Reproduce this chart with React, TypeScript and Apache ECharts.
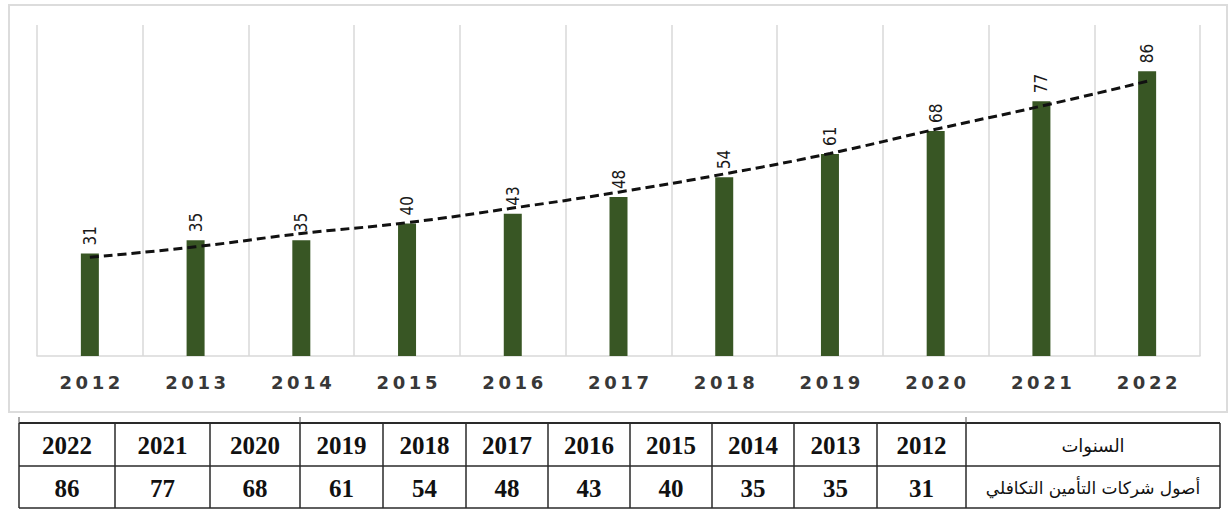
import React, { useEffect, useRef } from "react";
import * as echarts from "echarts";

const years = ["2012", "2013", "2014", "2015", "2016", "2017", "2018", "2019", "2020", "2021", "2022"];
const assets = [31, 35, 35, 40, 43, 48, 54, 61, 68, 77, 86];
const trend = [29.8, 33, 37, 40.3, 44.7, 49.5, 55, 61.2, 68.5, 75.5, 83];
const rowHeaders = ["السنوات", "أصول شركات التأمين التكافلي"];

const colEdges = [19, 115, 210, 300, 383, 466, 548, 630, 712, 794, 877, 966, 1220];
const rowEdges = [423, 466, 508];

export default function App() {
  const ref = useRef<HTMLDivElement>(null);
  useEffect(() => {
    if (!ref.current) return;
    const chart = echarts.init(ref.current, null, { renderer: "svg" });
    const graphic: any[] = [];
    graphic.push({
      type: "rect",
      shape: { x: 9, y: 5, width: 1218, height: 407 },
      style: { fill: "none", stroke: "#dcdcdc", lineWidth: 2 },
      silent: true,
    });
    const tableTop = rowEdges[0];
    const tableBottom = rowEdges[rowEdges.length - 1];
    rowEdges.forEach((y, i) => {
      graphic.push({
        type: "line",
        shape: { x1: colEdges[0], y1: y, x2: colEdges[colEdges.length - 1], y2: y },
        style: { stroke: "#2a2a2a", lineWidth: i === 0 ? 2 : 1.5 },
      });
    });
    colEdges.forEach((x) => {
      graphic.push({
        type: "line",
        shape: { x1: x, y1: tableTop, x2: x, y2: tableBottom },
        style: { stroke: "#2a2a2a", lineWidth: 1.5 },
      });
    });
    [0, 3, 11].forEach((i) => {
      graphic.push({
        type: "line",
        shape: { x1: colEdges[i], y1: tableTop - 6, x2: colEdges[i], y2: tableTop },
        style: { stroke: "#555", lineWidth: 1 },
      });
    });
    const revYears = [...years].reverse();
    const revVals = [...assets].reverse();
    revYears.forEach((yr, i) => {
      const cx = (colEdges[i] + colEdges[i + 1]) / 2;
      graphic.push({
        type: "text",
        x: cx,
        y: (rowEdges[0] + rowEdges[1]) / 2 + 1,
        style: {
          text: yr,
          font: "bold 25px 'Liberation Serif', 'Times New Roman', serif",
          fill: "#111",
          align: "center",
          verticalAlign: "middle",
        },
      });
      graphic.push({
        type: "text",
        x: cx,
        y: (rowEdges[1] + rowEdges[2]) / 2 + 1,
        style: {
          text: String(revVals[i]),
          font: "bold 25px 'Liberation Serif', 'Times New Roman', serif",
          fill: "#111",
          align: "center",
          verticalAlign: "middle",
        },
      });
    });
    const hx = (colEdges[11] + colEdges[12]) / 2;
    rowHeaders.forEach((t, r) => {
      graphic.push({
        type: "text",
        x: hx,
        y: (rowEdges[r] + rowEdges[r + 1]) / 2 + 1,
        style: {
          text: t,
          font: (r === 1 ? "17px" : "18px") + " 'DejaVu Sans', 'Noto Sans', serif",
          fill: "#111",
          align: "center",
          verticalAlign: "middle",
        },
      });
    });

    chart.setOption({
      animation: false,
      grid: { left: 37, right: 29, top: 25, bottom: 153 },
      xAxis: {
        type: "category",
        data: years,
        boundaryGap: true,
        axisLine: { show: true, lineStyle: { color: "#d9d9d9", width: 1.5 } },
        axisTick: { show: false },
        splitLine: { show: true, interval: 0, lineStyle: { color: "#e2e2e2", width: 2 } },
        axisLabel: {
          interval: 0,
          margin: 17,
          color: "#383838",
          fontFamily: "DejaVu Sans",
          fontWeight: "bold",
          fontSize: 18,
          formatter: (v: string) => v.split("").join("\u2009"),
        },
      },
      yAxis: {
        type: "value",
        min: 0,
        max: 100,
        show: false,
        splitLine: { show: false },
      },
      series: [
        {
          type: "bar",
          data: assets,
          barWidth: 18,
          itemStyle: { color: "#385624" },
          label: {
            show: true,
            position: "top",
            rotate: 90,
            align: "left",
            verticalAlign: "middle",
            distance: 8,
            fontFamily: "'Liberation Sans Narrow', 'DejaVu Sans Condensed', sans-serif",
            fontSize: 17,
            color: "#1a1a1a",
          },
          z: 2,
        },
        {
          type: "line",
          data: trend,
          smooth: true,
          symbol: "none",
          lineStyle: { color: "#111", width: 3, type: [9, 5] },
          z: 3,
        },
      ],
      graphic,
    });
    return () => chart.dispose();
  }, []);
  return (
    <div
      ref={ref}
      style={{ position: "fixed", left: 0, top: 0, width: 1229, height: 509, background: "#fff" }}
    />
  );
}
